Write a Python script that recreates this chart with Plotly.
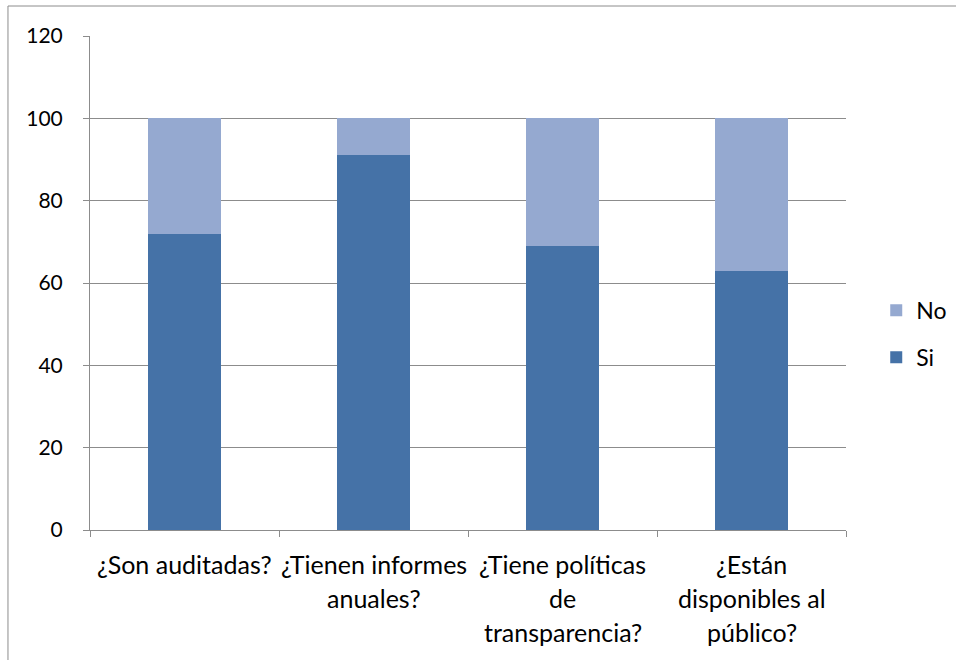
import plotly.graph_objects as go

categories = ["¿Son auditadas?", "¿Tienen informes anuales?",
              "¿Tiene políticas de transparencia?", "¿Están disponibles al público?"]
label_lines = [["¿Son auditadas?"],
               ["¿Tienen informes", "anuales?"],
               ["¿Tiene políticas", "de", "transparencia?"],
               ["¿Están", "disponibles al", "público?"]]
si_values = [72, 91, 69, 63]
no_values = [28, 9, 31, 37]
y_ticks = [0, 20, 40, 60, 80, 100, 120]

FONT = "Lato, 'Open Sans', sans-serif"
DARK = "#4572A7"
LIGHT = "#95A9D0"
GRID = "#8C8C8C"

fig = go.Figure()
fig.add_trace(go.Bar(x=categories, y=si_values, name="Si", marker=dict(color=DARK, line=dict(width=0)),
                     legendgroup="si", legendrank=2))
fig.add_trace(go.Bar(x=categories, y=no_values, name="No", marker=dict(color=LIGHT, line=dict(width=0)),
                     legendgroup="no", legendrank=1))

annotations = []
for cat, lines in zip(categories, label_lines):
    for i, line in enumerate(lines):
        annotations.append(dict(x=cat, y=0, xref="x", yref="y", text=line, showarrow=False,
                                yanchor="top", xanchor="center", yshift=-17 - 34 * i,
                                font=dict(family=FONT, size=25, color="#000000")))

fig.update_layout(
    width=956, height=660,
    margin=dict(l=90, r=110, t=36, b=130, autoexpand=False),
    paper_bgcolor="white", plot_bgcolor="white",
    barmode="stack", bargap=0.61,
    font=dict(family=FONT, size=22, color="#000000"),
    showlegend=True,
    legend=dict(x=1.04, y=0.397, xanchor="left", yanchor="middle",
                traceorder="grouped", tracegroupgap=14,
                font=dict(family=FONT, size=23), itemwidth=30,
                bgcolor="rgba(0,0,0,0)"),
    annotations=annotations,
    shapes=[
        dict(type="line", xref="paper", yref="paper", x0=-0.1085, x1=-0.1085, y0=-0.4, y1=1.0607,
             line=dict(color="#8C8C8C", width=1), layer="below"),
        dict(type="line", xref="paper", yref="paper", x0=-0.1085, x1=1.3, y0=1.0607, y1=1.0607,
             line=dict(color="#8C8C8C", width=1), layer="below"),
    ],
)
fig.update_xaxes(showticklabels=False, ticks="outside", ticklen=6, tickcolor=GRID, tickson="boundaries",
                 showline=True, linecolor=GRID, linewidth=1, showgrid=False, zeroline=False,
                 fixedrange=True)
fig.update_yaxes(range=[0, 120], tickvals=y_ticks, ticks="outside", ticklen=6, tickcolor=GRID,
                 showline=True, linecolor=GRID, linewidth=1, showgrid=True, gridcolor=GRID, gridwidth=1,
                 zeroline=False, ticklabelstandoff=16, tickfont=dict(family=FONT, size=21),
                 fixedrange=True)

fig.write_html("out.html", config={"displayModeBar": False},
               post_script="document.body.style.margin='0';document.body.style.overflow='hidden';")
